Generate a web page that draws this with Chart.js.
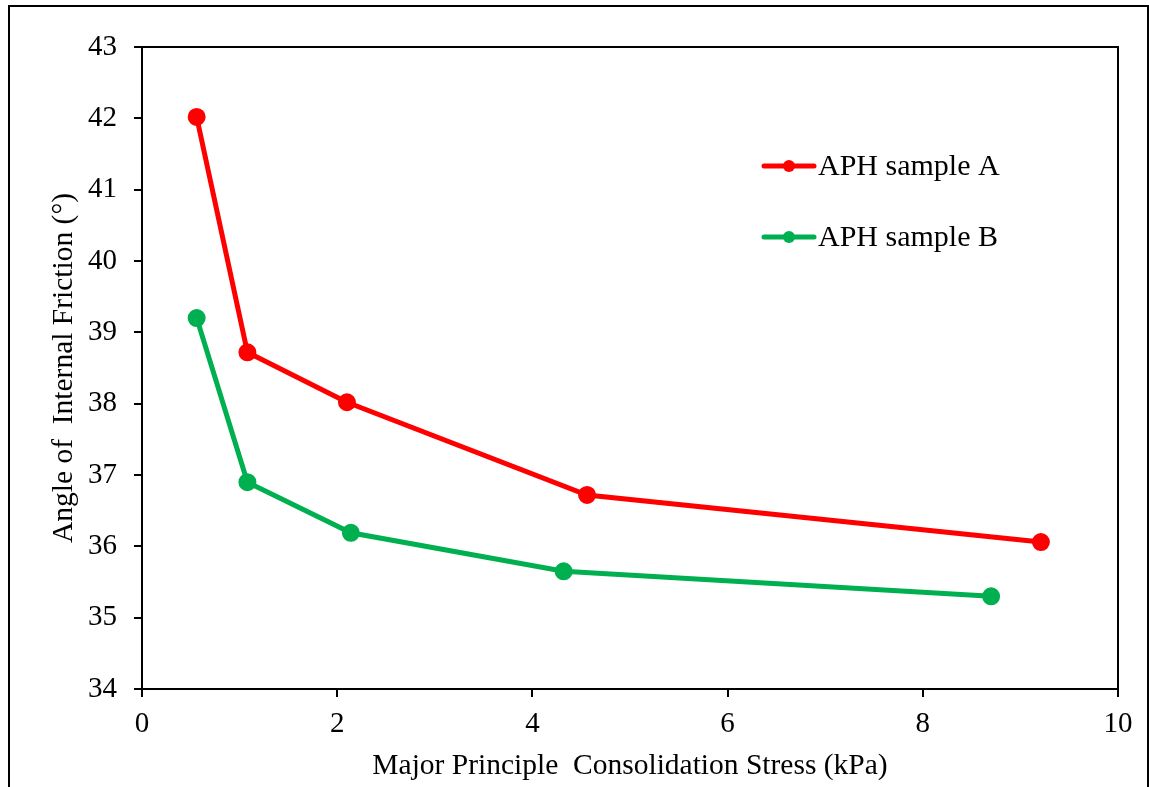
<!DOCTYPE html>
<html>
<head>
<meta charset="utf-8">
<script src="https://cdn.jsdelivr.net/npm/chart.js@4"></script>
<style>
  html,body{margin:0;padding:0;background:#fff;}
  #wrap{width:1149px;height:787px;position:relative;}
</style>
</head>
<body>
<div id="wrap"><canvas id="c" width="1149" height="787"></canvas></div>
<script>
const seriesNames = ["APH sample A", "APH sample B"];
const stressA = [0.56, 1.08, 2.10, 4.56, 9.21];
const frictionA = [42.02, 38.72, 38.02, 36.72, 36.06];
const stressB = [0.56, 1.08, 2.14, 4.32, 8.70];
const frictionB = [39.20, 36.90, 36.19, 35.65, 35.30];
const xTitle = "Major Principle  Consolidation Stress (kPa)";
const yTitle = "Angle of  Internal Friction (°)";
const colors = ["#FF0000", "#00B050"];

const FONT = "'Liberation Serif', 'Times New Roman', serif";

function pts(xs, ys){ return xs.map((x,i)=>({x:x, y:ys[i]})); }

const framePlugin = {
  id: 'frame',
  beforeDraw(chart){
    const ctx = chart.ctx;
    ctx.save();
    ctx.fillStyle = '#fff';
    ctx.fillRect(0,0,chart.width,chart.height);
    ctx.strokeStyle = '#000';
    ctx.lineWidth = 2;
    ctx.beginPath();
    ctx.moveTo(9, chart.height + 5);
    ctx.lineTo(9, 6);
    ctx.lineTo(1148, 6);
    ctx.lineTo(1148, chart.height + 5);
    ctx.stroke();
    ctx.restore();
  },
  afterDatasetsDraw(chart){
    const {ctx, chartArea} = chart;
    ctx.save();
    ctx.strokeStyle = '#000';
    ctx.lineWidth = 2;
    ctx.beginPath();
    ctx.moveTo(chartArea.left, chartArea.top);
    ctx.lineTo(chartArea.right, chartArea.top);
    ctx.lineTo(chartArea.right, chartArea.bottom);
    ctx.stroke();
    ctx.restore();
  },
  afterDraw(chart){
    const ctx = chart.ctx;
    ctx.save();
    const rows = [166, 237];
    chart.data.datasets.forEach((ds, i) => {
      const y = rows[i];
      ctx.strokeStyle = ds.borderColor;
      ctx.lineWidth = 5;
      ctx.lineCap = 'round';
      ctx.beginPath();
      ctx.moveTo(764, y);
      ctx.lineTo(814, y);
      ctx.stroke();
      ctx.fillStyle = ds.borderColor;
      ctx.beginPath();
      ctx.arc(789, y, 6, 0, Math.PI*2);
      ctx.fill();
      ctx.fillStyle = '#000';
      ctx.font = "30px " + FONT;
      ctx.textBaseline = 'middle';
      ctx.textAlign = 'left';
      ctx.fillText(ds.label, 818, y + 1);
    });
    ctx.restore();
  }
};

new Chart(document.getElementById('c'), {
  type: 'scatter',
  data: {
    datasets: [
      { label: seriesNames[0], data: pts(stressA, frictionA), borderColor: colors[0], backgroundColor: colors[0],
        showLine: true, borderWidth: 5, pointRadius: 6.5, pointHoverRadius: 6.5, tension: 0 },
      { label: seriesNames[1], data: pts(stressB, frictionB), borderColor: colors[1], backgroundColor: colors[1],
        showLine: true, borderWidth: 5, pointRadius: 6.5, pointHoverRadius: 6.5, tension: 0 }
    ]
  },
  options: {
    responsive: false,
    animation: false,
    devicePixelRatio: 1,
    layout: { padding: { left: 0, top: 47, right: 31, bottom: 0 } },
    plugins: { legend: { display: false }, tooltip: { enabled: false } },
    scales: {
      x: {
        type: 'linear', min: 0, max: 10,
        ticks: { stepSize: 2, color: '#000', font: { family: FONT, size: 29 }, padding: 10 },
        grid: { drawOnChartArea: false, drawTicks: true, tickLength: 8, color: '#000', lineWidth: 2 },
        border: { display: true, color: '#000', width: 2 },
        title: { display: true, text: xTitle, color: '#000', font: { family: FONT, size: 29.5 }, padding: { top: 3, bottom: 3 } },
        afterFit(scale){ scale.height = 98; }
      },
      y: {
        type: 'linear', min: 34, max: 43,
        ticks: { stepSize: 1, color: '#000', font: { family: FONT, size: 29 }, padding: 17 },
        grid: { drawOnChartArea: false, drawTicks: true, tickLength: 8, color: '#000', lineWidth: 2 },
        border: { display: true, color: '#000', width: 2 },
        title: { display: true, text: yTitle, color: '#000', font: { family: FONT, size: 29.5 }, padding: { top: 47, bottom: 0 } },
        afterFit(scale){ scale.width = 142; }
      }
    }
  },
  plugins: [framePlugin]
});
</script>
</body>
</html>
